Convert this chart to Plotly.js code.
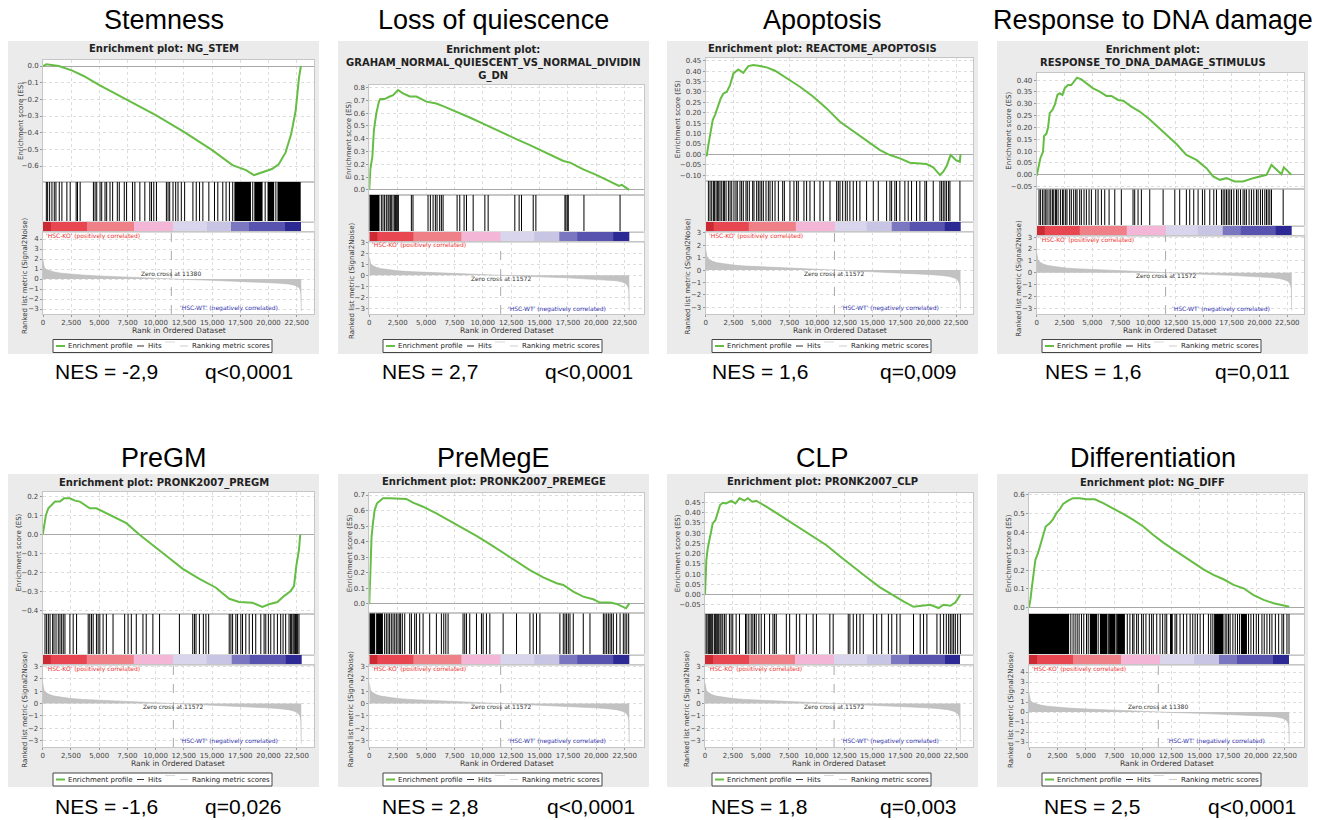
<!DOCTYPE html>
<html><head><meta charset="utf-8">
<script src="https://cdn.plot.ly/plotly-3.0.1.min.js"></script>
<style>html,body{margin:0;padding:0;background:#fff}#chart{width:1326px;height:820px}</style>
</head><body><div id="chart"></div>
<script>
// ================= DATA =================
const panelTitles = ["Stemness","Loss of quiescence","Apoptosis","Response to DNA damage","PreGM","PreMegE","CLP","Differentiation"];
const geneSetTitles = ["Enrichment plot: NG_STEM",
  "Enrichment plot:<br>GRAHAM_NORMAL_QUIESCENT_VS_NORMAL_DIVIDIN<br>G_DN",
  "Enrichment plot: REACTOME_APOPTOSIS",
  "Enrichment plot:<br>RESPONSE_TO_DNA_DAMAGE_STIMULUS",
  "Enrichment plot: PRONK2007_PREGM","Enrichment plot: PRONK2007_PREMEGE",
  "Enrichment plot: PRONK2007_CLP","Enrichment plot: NG_DIFF"];
const nesLabels = ["NES = -2,9","NES = 2,7","NES = 1,6","NES = 1,6","NES = -1,6","NES = 2,8","NES = 1,8","NES = 2,5"];
const qLabels = ["q<0,0001","q<0,0001","q=0,009","q=0,011","q=0,026","q<0,0001","q=0,003","q<0,0001"];
const zeroCross = [11380,11572,11572,11572,11572,11572,11572,11380];
const posLabel = "'HSC-KO' (positively correlated)";
const negLabel = "'HSC-WT' (negatively correlated)";
const nGenes = 22900;

// Enrichment score curves (rank, ES)
const esRank_stem = [0,300,1400,2600,3600,5000,7500,10000,12500,15000,16800,18000,18700,19500,20300,20900,21500,22000,22400,22700,22870];
const esScore_stem = [0,0.01,0.0,-0.028,-0.06,-0.115,-0.205,-0.295,-0.395,-0.505,-0.595,-0.625,-0.655,-0.635,-0.618,-0.59,-0.52,-0.41,-0.27,-0.07,0.0];
const esRank_q = [0,90,270,410,620,850,970,1350,1800,2100,2530,2970,3560,4150,5030,5900,6500,7700,8850,10300,11500,13000,14150,15600,17100,17700,18850,20000,21200,22000,22250,22600,22900];
const esScore_q = [0,0.16,0.26,0.47,0.6,0.69,0.71,0.71,0.73,0.74,0.78,0.755,0.73,0.73,0.69,0.675,0.655,0.61,0.566,0.506,0.455,0.395,0.35,0.286,0.226,0.213,0.16,0.117,0.065,0.031,0.039,0.02,0.0];
const esRank_apo = [0,90,240,390,630,840,1140,1350,1590,1890,2190,2490,2930,3380,3830,4280,4880,5480,6230,7280,8470,9670,10870,12070,13260,14460,15660,16560,17460,18350,19250,19850,20450,21050,21350,21650,22010,22490,22840,22900];
const esScore_apo = [0,-0.008,0.045,0.093,0.165,0.19,0.242,0.269,0.293,0.30,0.333,0.389,0.408,0.392,0.424,0.429,0.424,0.418,0.402,0.365,0.325,0.277,0.221,0.157,0.112,0.069,0.021,-0.003,-0.019,-0.04,-0.043,-0.046,-0.062,-0.099,-0.083,-0.056,-0.003,-0.027,-0.035,0.0];
const esRank_dna = [0,210,330,570,660,870,1020,1170,1410,1620,1860,2070,2310,2510,2810,3110,3410,3620,4010,4460,5060,5660,6260,6710,7310,7760,8500,9250,10150,11350,12550,13440,14340,15240,15840,16440,17040,17780,18530,19430,20180,20630,21080,21530,21980,22190,22570,22870];
const esScore_dna = [-0.004,0.042,0.07,0.098,0.164,0.173,0.2,0.26,0.274,0.295,0.337,0.344,0.337,0.365,0.379,0.379,0.396,0.41,0.403,0.386,0.365,0.351,0.333,0.333,0.316,0.313,0.288,0.267,0.234,0.182,0.13,0.084,0.063,0.028,-0.007,-0.021,-0.014,-0.028,-0.028,-0.014,-0.007,0.0,0.042,0.024,0.003,0.032,0.014,0.0];
const esRank_pregm = [0,120,290,500,790,1090,1530,1880,2410,2850,3290,4170,4760,5640,6530,7410,8580,9760,10940,12410,13880,15350,16520,17400,18580,19460,20050,20790,21370,21960,22260,22460,22700,22810];
const esScore_pregm = [0,0.052,0.104,0.139,0.157,0.174,0.174,0.191,0.191,0.179,0.174,0.139,0.139,0.113,0.09,0.061,0.0,-0.057,-0.11,-0.179,-0.231,-0.278,-0.336,-0.353,-0.357,-0.379,-0.365,-0.353,-0.322,-0.296,-0.27,-0.165,-0.078,0];
const esRank_premege = [0,60,120,200,320,470,680,910,1210,1790,2530,3260,3850,4740,5910,7090,8260,9440,10620,11790,12970,14150,15320,16500,17090,17970,18850,19730,20320,21210,21790,22230,22620,22910];
const esScore_premege = [0,0.176,0.325,0.433,0.518,0.604,0.647,0.662,0.679,0.679,0.679,0.675,0.651,0.625,0.582,0.535,0.486,0.437,0.385,0.33,0.272,0.218,0.171,0.133,0.122,0.079,0.047,0.03,0.009,0.009,0.0,-0.017,-0.028,0.004];
const esRank_clp = [0,60,120,240,390,540,690,930,1140,1350,1590,1890,2340,2730,3090,3540,3840,4230,4590,5040,5490,6240,7290,8490,9690,10890,12090,13290,14490,15690,16890,17790,18690,19590,20190,20940,21390,21990,22440,22740,22890];
const esScore_clp = [0,0.118,0.167,0.224,0.265,0.314,0.347,0.363,0.404,0.437,0.448,0.445,0.457,0.445,0.47,0.458,0.47,0.453,0.458,0.445,0.429,0.404,0.367,0.327,0.282,0.241,0.187,0.134,0.085,0.036,-0.005,-0.033,-0.059,-0.054,-0.049,-0.065,-0.049,-0.054,-0.038,-0.013,0.003];
const esRank_diff = [0,120,260,410,560,790,1000,1240,1470,1820,2120,2410,2710,3000,3440,3880,4470,5060,5790,6530,7410,8290,9180,10060,10940,11820,13000,14180,15350,16230,17120,18000,18880,19760,20650,21530,22120,22700,22900];
const esScore_diff = [0,0.041,0.112,0.2,0.254,0.29,0.334,0.396,0.432,0.449,0.471,0.503,0.524,0.552,0.57,0.583,0.583,0.577,0.577,0.556,0.529,0.499,0.467,0.432,0.387,0.346,0.298,0.25,0.204,0.174,0.151,0.121,0.103,0.067,0.041,0.023,0.014,0.005,0.005];

// Hits (rank positions) and dense hit blocks [from, to]
const hits_stem = [294,412,588,794,1000,1147,1441,1676,2118,2412,2941,3059,3294,4471,4618,4765,5059,5206,5500,5647,5941,6176,6588,6765,7206,7412,7941,8147,8588,9029,9471,9618,9824,10059,10941,11088,11235,11529,11765,11971,12265,12559,13294,13588,13882,14176,14706,15206,15500,15941,16235,16529,16824,18600,19700,20650];
const blocks_stem = [[16970,18440],[18735,19470],[19910,20500],[20790,22850]];
const hits_q = [1060,1205,1350,1500,1650,1735,1850,1940,2090,2235,2320,2380,2470,2560,3705,3850,5175,5380,5620,5820,5970,6200,6350,6500,7735,7970,8350,8560,9150,10180,10470,12820,13200,13410,14440,14675,17235,17320,17440,17530,18910,22090];
const blocks_q = [[0,900]];
const hits_apo = [240,390,540,690,780,930,1050,1170,1290,1440,1590,1680,1830,2040,2190,2340,2540,2720,2840,3080,3230,3380,3620,3740,3920,4220,4340,4580,4730,4880,5030,5180,5420,5630,5780,5990,6230,6530,6920,7070,7570,7930,8170,8320,8830,9070,9370,9760,10270,10570,11170,11770,11920,12070,12310,12550,12720,12960,13260,13560,13860,14460,15060,15510,16260,16560,16710,17000,17150,17450,17900,18200,18500,18950,19250,19700,19850,20450,21050,21200,21350,21500,21650,21830,21950,22850];
const blocks_apo = [];
const hits_dna = [210,330,510,660,810,930,1110,1260,1410,1530,1680,1770,1920,2130,2310,2430,2600,2720,2960,3110,3320,3500,3620,3860,4010,4250,4460,4700,4910,5300,5510,5810,6110,6500,7010,7600,8650,8800,9100,9400,10150,11350,12400,12840,13440,13740,14100,14490,14880,15090,15540,15900,16140,16590,16740,16890,17040,17190,17340,17490,17700,17940,18090,18300,18530,18680,18830,19070,19280,19490,19730,19880,20090,20270,20480,20630,20780,20930,21080,22130];
const blocks_dna = [];
const hits_pregm = [205,350,500,650,880,1000,1180,1380,1530,1680,1820,1970,2410,2700,3000,4030,4170,4320,4470,4760,4910,5060,5350,5640,6230,7260,7560,7850,8290,8880,9170,9760,10350,12110,13290,13440,13580,13880,14230,14460,14700,16520,16670,16820,17110,17260,17550,17700,17990,18290,18580,18870,19320,19610,19760,19990,20200,20490,20790,21080,21290,21520,21820,21960,22050,22170,22260,22340,22400,22490,22580,22700];
const blocks_pregm = [];
const hits_premege = [1350,1500,1650,1790,1940,2090,2240,2380,2530,2680,2760,2910,3120,3560,3710,4000,4150,4440,4740,5320,5910,6350,6560,6740,6940,8260,8410,8560,8850,9440,9880,10030,10320,10620,11790,12970,14150,14440,14730,15030,16790,17090,17240,17380,17530,17680,17970,18850,19440,20620,20760,20910,21060,21210,21350,21500,21790,22090,22380,22530,22680,22850];
const blocks_premege = [[0,520],[600,1200]];
const hits_clp = [90,180,300,390,480,600,690,840,930,1050,1140,1230,1350,1440,1590,1740,1890,2190,2340,2490,2790,3090,3630,3750,3930,4140,4290,4440,4590,4830,5040,5340,5790,6090,6240,6390,7290,7590,8190,8490,9090,9690,9990,11190,11490,12840,12990,13290,13590,13890,14190,15090,15390,15840,16440,16740,17190,17490,18690,19290,19590,19890,20790,21090,21390,21630,21840,21990,22140,22290,22440,22650,22890];
const blocks_clp = [];
const hits_diff = [3680,3880,4060,4240,4410,4620,4820,5060,5210,6090,6980,7680,8650,8880,9120,9240,9470,9620,9910,10060,10290,10590,10790,10940,11240,11530,11760,11970,12120,12850,13000,13290,13590,13880,14180,14410,14620,14820,15060,15350,15790,16000,16180,17260,17410,17560,17700,17940,18150,18350,18530,19320,19530,19760,20000,20200,20500,20700,20940,21180,21380,21680,21970,22260,22410,22700,22880];
const blocks_diff = [[0,3530],[5350,5990],[6240,6900],[7050,7600],[7750,8440],[12410,12650],[16290,17120],[18650,19180]];

// Ranked list metric (Signal2Noise) for the two datasets
const metricRank_A = [0,40,120,300,600,1000,1600,2500,3500,5000,7500,10000,11380,12500,15000,17500,20000,21000,21800,22300,22600,22780,22860,22900];
const metricVal_A = [1.9,1.45,1.15,0.95,0.82,0.7,0.58,0.47,0.39,0.3,0.17,0.06,0,-0.04,-0.13,-0.22,-0.34,-0.42,-0.5,-0.62,-0.78,-1.0,-1.4,-3.2];
const metricRank_B = [0,40,120,300,600,1000,1600,2500,3500,5000,7500,10000,11572,12500,15000,17500,20000,21000,21800,22300,22600,22780,22860,22900];
const metricVal_B = [1.65,1.3,1.05,0.88,0.72,0.6,0.5,0.4,0.33,0.26,0.17,0.06,0,-0.04,-0.14,-0.23,-0.35,-0.42,-0.5,-0.62,-0.76,-0.98,-1.35,-3.2];

// Colour bar segments (rank edges) and their correlation level
const cbEdges = [0,700,3900,8100,11550,14500,16700,18300,21500,22900];
const cbLevels = [1,0.85,0.6,0.3,-0.12,-0.28,-0.55,-0.72,-0.92];

const esRanks = [esRank_stem,esRank_q,esRank_apo,esRank_dna,esRank_pregm,esRank_premege,esRank_clp,esRank_diff];
const esScores = [esScore_stem,esScore_q,esScore_apo,esScore_dna,esScore_pregm,esScore_premege,esScore_clp,esScore_diff];
const hitSets = [hits_stem,hits_q,hits_apo,hits_dna,hits_pregm,hits_premege,hits_clp,hits_diff];
const blockSets = [blocks_stem,blocks_q,blocks_apo,blocks_dna,blocks_pregm,blocks_premege,blocks_clp,blocks_diff];
const metricSet = ['A','B','B','B','B','B','B','A'];

// ================= GEOMETRY (pixels) =================
const W = 1326, H = 820;
const X = v => v / W, Y = v => 1 - v / H;
const geom = [
 {bx:8,  by:41, pl:43,    pr:314,  esT:60,   esB:182,   hB:222,   cB:232,   mB:314, xMax:24030, esR:[-0.696,0.036], esD:0.1,  esF:'.1f', mR:[-3.5,4.7],  gY:49,    esOff:22, nes:45, q:195},
 {bx:338,by:41, pl:369.3, pr:644,  esT:85,   esB:195,   hB:232,   cB:241.5, mB:314, xMax:24200, esR:[-0.04,0.82],   esD:0.1,  esF:'.1f', mR:[-3.5,3.05], gY:63.3,  esOff:20, nes:42, q:205},
 {bx:667,by:41, pl:705.7, pr:973.3,esT:58.3, esB:180.7, hB:221.7, cB:231.7, mB:314, xMax:24050, esR:[-0.126,0.4615],esD:0.05, esF:'.2f', mR:[-3.55,3.1], gY:49.3,  esOff:28, nes:43, q:211},
 {bx:997,by:41, pl:1036.7,pr:1304, esT:72.7, esB:189.3, hB:226,   cB:236,   mB:314, xMax:24000, esR:[-0.061,0.431], esD:0.05, esF:'.2f', mR:[-3.5,3.1],  gY:56.7,  esOff:28, nes:46, q:216},
 {bx:8,  by:474,pl:42.7,  pr:314,  esT:491.7,esB:614,   hB:655,   cB:665,   mB:747, xMax:24030, esR:[-0.416,0.226], esD:0.1,  esF:'.1f', mR:[-3.5,3.1],  gY:482.7, esOff:24, nes:45, q:195},
 {bx:338,by:474,pl:369.3, pr:644,  esT:492.7,esB:613.3, hB:655,   cB:665,   mB:747, xMax:24200, esR:[-0.06,0.715],  esD:0.1,  esF:'.1f', mR:[-3.5,3.1],  gY:482.3, esOff:19, nes:42, q:207},
 {bx:667,by:474,pl:705,   pr:973.3,esT:492.7,esB:614,   hB:655,   cB:665,   mB:747, xMax:24050, esR:[-0.094,0.497], esD:0.05, esF:'.2f', mR:[-3.5,3.1],  gY:482.3, esOff:27, nes:42, q:211},
 {bx:997,by:474,pl:1029,  pr:1304, esT:492.7,esB:614,   hB:655,   cB:665,   mB:747, xMax:24200, esR:[-0.034,0.612], esD:0.1,  esF:'.1f', mR:[-3.5,4.7],  gY:482.7, esOff:20, nes:45, q:209}
];
const BOXW = 311, BOXH = 313;

const FONT = 'DejaVu Sans';
const GREEN = '#66bd44';
const FRAME = '#c6c6c6';
const GRID = '#dddddd';

const data = [];
const layout = {
  width: W, height: H, margin:{l:0,r:0,t:0,b:0},
  paper_bgcolor:'#ffffff', plot_bgcolor:'rgba(0,0,0,0)',
  showlegend:false, font:{family:FONT, size:7, color:'#333'},
  shapes:[], annotations:[]
};
const axn = n => n === 1 ? '' : String(n);

geom.forEach((g, i) => {
  const base = 4 * i;
  const nE = base + 1, nH = base + 2, nC = base + 3, nM = base + 4;
  const xd = [X(g.pl), X(g.pr)];
  const common = {domain: xd, range:[0, g.xMax], fixedrange:true, zeroline:false,
                  showline:true, mirror:true, linecolor:FRAME, linewidth:1};
  // ES subplot
  layout['xaxis'+axn(nE)] = Object.assign({}, common, {anchor:'y'+axn(nE), showticklabels:false, ticks:'',
      showgrid:true, tick0:0, dtick:2500, gridcolor:GRID, griddash:'dot'});
  layout['yaxis'+axn(nE)] = {domain:[Y(g.esB), Y(g.esT)], range:g.esR, anchor:'x'+axn(nE), fixedrange:true,
      tick0:0, dtick:g.esD, tickformat:g.esF, tickfont:{size:7, color:'#444'}, ticks:'outside', ticklen:2, tickcolor:'#999',
      showgrid:true, gridcolor:GRID, griddash:'dot', zeroline:true, zerolinecolor:'#a8a8a8', zerolinewidth:1,
      showline:true, mirror:true, linecolor:FRAME};
  // Hits subplot
  layout['xaxis'+axn(nH)] = Object.assign({}, common, {anchor:'y'+axn(nH), showticklabels:false, ticks:'', showgrid:false});
  layout['yaxis'+axn(nH)] = {domain:[Y(g.hB), Y(g.esB)], range:[0,1], anchor:'x'+axn(nH), fixedrange:true,
      showticklabels:false, ticks:'', showgrid:false, zeroline:false, showline:true, mirror:true, linecolor:FRAME};
  // Colour bar subplot
  layout['xaxis'+axn(nC)] = Object.assign({}, common, {anchor:'y'+axn(nC), showticklabels:false, ticks:'', showgrid:false, linecolor:'#dcdcdc'});
  layout['yaxis'+axn(nC)] = {domain:[Y(g.cB), Y(g.hB)], range:[0,1], anchor:'x'+axn(nC), fixedrange:true,
      showticklabels:false, ticks:'', showgrid:false, zeroline:false, showline:true, mirror:true, linecolor:'#dcdcdc'};
  // Metric subplot
  layout['xaxis'+axn(nM)] = Object.assign({}, common, {anchor:'y'+axn(nM), tick0:0, dtick:2500, tickformat:',d',
      tickfont:{size:7, color:'#444'}, ticks:'outside', ticklen:2, tickcolor:'#999',
      showgrid:true, gridcolor:GRID, griddash:'dot'});
  layout['yaxis'+axn(nM)] = {domain:[Y(g.mB), Y(g.cB)], range:g.mR, anchor:'x'+axn(nM), fixedrange:true,
      tick0:0, dtick:1, tickformat:'d', tickfont:{size:7, color:'#444'}, ticks:'outside', ticklen:2, tickcolor:'#999',
      showgrid:true, gridcolor:GRID, griddash:'dot', zeroline:false, showline:true, mirror:true, linecolor:FRAME};

  // ---- backgrounds
  layout.shapes.push({type:'rect', xref:'paper', yref:'paper', layer:'below',
      x0:X(g.bx), x1:X(g.bx+BOXW), y0:Y(g.by+BOXH), y1:Y(g.by), fillcolor:'#ebebeb', line:{width:0}});
  layout.shapes.push({type:'rect', xref:'paper', yref:'paper', layer:'below',
      x0:X(g.pl), x1:X(g.pr), y0:Y(g.mB), y1:Y(g.esT), fillcolor:'#ffffff', line:{width:0}});

  // ---- traces
  const mR = metricSet[i] === 'A' ? metricRank_A : metricRank_B;
  const mV = metricSet[i] === 'A' ? metricVal_A : metricVal_B;
  data.push({type:'scatter', mode:'lines', x:mR, y:mV, xaxis:'x'+axn(nM), yaxis:'y'+axn(nM),
      fill:'tozeroy', fillcolor:'#c2c2c2', line:{color:'#b8b8b8', width:0.6}, hoverinfo:'skip'});
  const hx = [], hy = [];
  hitSets[i].forEach(h => { hx.push(h, h, null); hy.push(0, 1, null); });
  data.push({type:'scatter', mode:'lines', x:hx, y:hy, xaxis:'x'+axn(nH), yaxis:'y'+axn(nH),
      line:{color:'#000', width:1}, hoverinfo:'skip'});
  if (blockSets[i].length) {
    const bxs = [], bys = [];
    blockSets[i].forEach(b => { bxs.push(b[0], b[0], b[1], b[1], b[0], null); bys.push(0, 1, 1, 0, 0, null); });
    data.push({type:'scatter', mode:'lines', x:bxs, y:bys, xaxis:'x'+axn(nH), yaxis:'y'+axn(nH),
        fill:'toself', fillcolor:'#000', line:{width:0, color:'#000'}, hoverinfo:'skip'});
  }
  data.push({type:'heatmap', x:cbEdges, y:[0,1], z:[cbLevels], zmin:-1, zmax:1, showscale:false,
      xaxis:'x'+axn(nC), yaxis:'y'+axn(nC), hoverinfo:'skip',
      colorscale:[[0,'#2c2894'],[0.04,'#2c2894'],[0.14,'#5853ae'],[0.225,'#7a76c0'],[0.36,'#c8c4e3'],
                  [0.44,'#d8d5ec'],[0.65,'#f3b6d6'],[0.8,'#ef8088'],[0.925,'#e84650'],[1,'#cc2a33']]});
  data.push({type:'scatter', mode:'lines', x:esRanks[i], y:esScores[i], xaxis:'x'+axn(nE), yaxis:'y'+axn(nE),
      line:{color:GREEN, width:2}, hoverinfo:'skip'});

  // zero-cross dashed line
  layout.shapes.push({type:'line', xref:'x'+axn(nM), yref:'y'+axn(nM)+' domain', x0:zeroCross[i], x1:zeroCross[i],
      y0:0, y1:1, line:{color:'#aaaaaa', width:1, dash:'dash'}});

  // ---- texts
  const cx = X(g.bx + BOXW/2);
  const A = layout.annotations;
  A.push({xref:'paper', yref:'paper', x:cx, y:Y(i<4?20:458), text:panelTitles[i], showarrow:false,
      xanchor:'center', yanchor:'middle', font:{family:'Liberation Sans, Arial, sans-serif', size:27, color:'#000'}});
  A.push({xref:'paper', yref:'paper', x:cx, y:Y(g.gY), text:'<b>'+geneSetTitles[i]+'</b>', showarrow:false,
      xanchor:'center', yanchor:'middle', font:{family:FONT, size:10, color:'#222'}});
  const nesY = i<4 ? 372 : 806.5;
  A.push({xref:'paper', yref:'paper', x:X(g.bx+g.nes), y:Y(nesY), text:nesLabels[i], showarrow:false,
      xanchor:'left', yanchor:'middle', font:{family:'Liberation Sans, Arial, sans-serif', size:21, color:'#000'}});
  A.push({xref:'paper', yref:'paper', x:X(g.bx+g.q), y:Y(nesY), text:qLabels[i], showarrow:false,
      xanchor:'left', yanchor:'middle', font:{family:'Liberation Sans, Arial, sans-serif', size:21, color:'#000'}});
  A.push({xref:'paper', yref:'paper', x:X(g.pl-g.esOff), y:Y((g.esT+g.esB)/2), text:'Enrichment score (ES)',
      textangle:-90, showarrow:false, xanchor:'center', yanchor:'middle', font:{family:FONT, size:7, color:'#333'}});
  A.push({xref:'paper', yref:'paper', x:X(g.pl-18), y:Y((g.cB+g.mB)/2+3), text:'Ranked list metric (Signal2Noise)',
      textangle:-90, showarrow:false, xanchor:'center', yanchor:'middle', font:{family:FONT, size:7, color:'#333'}});
  A.push({xref:'paper', yref:'paper', x:X((g.pl+g.pr)/2), y:Y(i<4?330:763), text:'Rank in Ordered Dataset',
      showarrow:false, xanchor:'center', yanchor:'middle', font:{family:FONT, size:7.6, color:'#333'}});
  A.push({xref:'x'+axn(nM), yref:'y'+axn(nM), x:zeroCross[i], y:metricSet[i]==='A'?0.55:-0.25,
      text:'Zero cross at '+zeroCross[i], showarrow:false, xanchor:'center', yanchor:'middle',
      font:{family:FONT, size:6, color:'#333'}});
  A.push({xref:'x'+axn(nM), yref:'y'+axn(nM)+' domain', x:0, y:0.95, text:posLabel, showarrow:false,
      xanchor:'left', yanchor:'middle', xshift:1, font:{family:FONT, size:6, color:'#f03030'}});
  A.push({xref:'x'+axn(nM), yref:'y'+axn(nM)+' domain', x:12000, y:0.07, text:negLabel, showarrow:false,
      xanchor:'left', yanchor:'middle', font:{family:FONT, size:6, color:'#3434b0'}});

  // ---- legend
  const ly = i<4 ? 346 : 779.5;
  const lx = g.bx + 45;
  layout.shapes.push({type:'rect', xref:'paper', yref:'paper', layer:'below',
      x0:X(lx), x1:X(lx+219), y0:Y(ly+6.5), y1:Y(ly-6.5), fillcolor:'#ffffff', line:{color:'#444', width:1}});
  const seg = (a, b, yy, col, w) => layout.shapes.push({type:'line', xref:'paper', yref:'paper',
      x0:X(lx+a), x1:X(lx+b), y0:Y(yy), y1:Y(yy), line:{color:col, width:w}});
  seg(3, 12, ly, GREEN, 2);
  seg(84, 91, ly, '#333', 1);
  seg(112, 122, ly-4, '#d8d8d8', 1);
  seg(127, 135, ly, '#cccccc', 1);
  const lt = (x, t) => A.push({xref:'paper', yref:'paper', x:X(lx+x), y:Y(ly), text:t, showarrow:false,
      xanchor:'left', yanchor:'middle', font:{family:FONT, size:7, color:'#222'}});
  lt(13, 'Enrichment profile');
  lt(93, 'Hits');
  lt(137, 'Ranking metric scores');
});

Plotly.newPlot('chart', data, layout, {staticPlot:true, displayModeBar:false});
</script>
</body></html>
